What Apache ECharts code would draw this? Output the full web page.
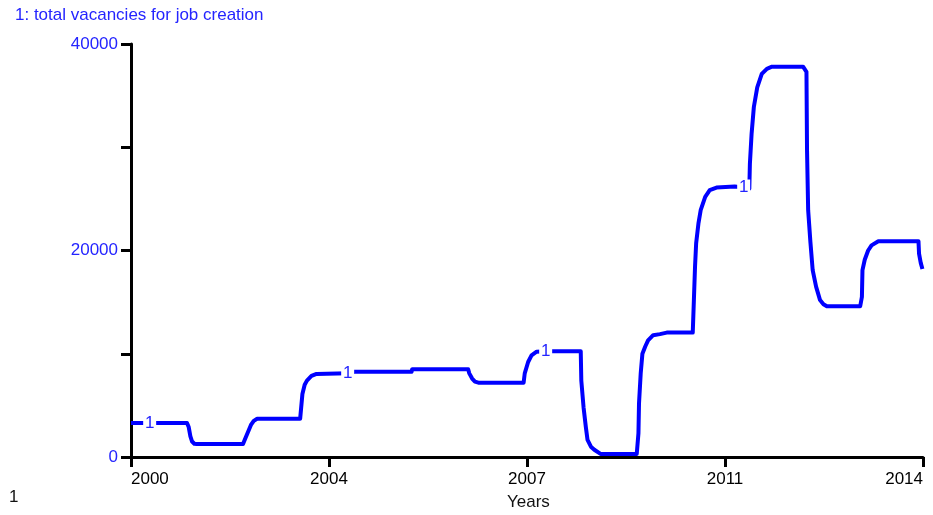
<!DOCTYPE html>
<html>
<head>
<meta charset="utf-8">
<style>
  html, body { margin: 0; padding: 0; background: #fff; }
  #chart { width: 933px; height: 515px; }
</style>
<script src="https://cdn.jsdelivr.net/npm/echarts@6/dist/echarts.min.js"></script>
</head>
<body>
<div id="chart"></div>
<script>
// Time axis (years) and the simulated stock "total vacancies for job creation"
const startYear = 2000;
const endYear = 2014;
const years = [
  2000.00, 2000.33, 2000.99, 2001.02, 2001.05, 2001.08, 2001.12, 2001.16,
  2001.98, 2002.02, 2002.07, 2002.12, 2002.17, 2002.23,
  2002.99, 2003.03, 2003.07, 2003.11, 2003.19, 2003.28, 2003.83, 2003.95,
  2004.96, 2004.97, 2005.96, 2005.98, 2006.03, 2006.08, 2006.14,
  2006.94, 2006.96, 2007.02, 2007.08, 2007.17, 2007.33,
  2007.95, 2007.96, 2008.00, 2008.04, 2008.07, 2008.13, 2008.19, 2008.30,
  2008.94, 2008.97, 2008.98, 2009.01, 2009.04, 2009.09, 2009.14, 2009.23, 2009.35, 2009.47,
  2009.93, 2009.95, 2009.97, 2009.99, 2010.03, 2010.07, 2010.15, 2010.23, 2010.35, 2010.67, 2010.83,
  2010.93, 2010.94, 2010.97, 2011.01, 2011.07, 2011.15, 2011.24, 2011.33,
  2011.88, 2011.94, 2011.95, 2011.97, 2012.01, 2012.05, 2012.11, 2012.18, 2012.24, 2012.30,
  2012.89, 2012.92, 2012.93, 2012.97, 2013.03, 2013.09, 2013.21,
  2013.92, 2013.93, 2013.96, 2013.99
];
const vacancies = [
  3300, 3300, 3300, 2900, 2000, 1500, 1280, 1250,
  1250, 1800, 2450, 3100, 3500, 3700,
  3700, 6100, 7000, 7400, 7850, 8050, 8100, 8250,
  8250, 8500, 8500, 8100, 7600, 7300, 7200,
  7200, 8100, 9200, 9850, 10200, 10250,
  10250, 7400, 4800, 2900, 1650, 1000, 700, 300,
  300, 2300, 5200, 8100, 10000, 10700, 11300, 11800, 11900, 12050,
  12050, 15200, 18400, 20700, 22600, 23900, 25200, 25850, 26100, 26200, 26100,
  26000, 28400, 31300, 33900, 35800, 37100, 37600, 37800,
  37800, 37300, 29700, 23900, 20800, 18100, 16500, 15200, 14800, 14600,
  14600, 15500, 18100, 19100, 20000, 20500, 20900,
  20900, 19700, 18800, 18200
];
// Years where the series number "1" is printed on the curve
const labelYears = [2000.33, 2003.83, 2007.33, 2010.83];
// Value-axis labels that are printed (other ticks are unlabeled)
const yLabelValues = [0, 20000, 40000];

const seriesTitle = '1: total vacancies for job creation';
const xAxisTitle = 'Years';

const blue = '#0000ff';
const textBlue = '#2424ff';
const font = '"Liberation Sans", Arial, sans-serif';
const fontSize = 17;

const points = years.map((y, i) => [y - startYear, vacancies[i]]);
const markers = labelYears.map(y => {
  const i = years.indexOf(y);
  return { coord: [years[i] - startYear, vacancies[i]] };
});

const chart = echarts.init(document.getElementById('chart'), null, { renderer: 'canvas' });
chart.setOption({
  animation: false,
  backgroundColor: '#fff',
  grid: { left: 131, right: 10, top: 44, bottom: 58, containLabel: false },
  xAxis: {
    type: 'value',
    min: 0,
    max: endYear - startYear,
    interval: 3.5,
    axisLine: { show: true, lineStyle: { color: '#000', width: 3 } },
    axisTick: { show: true, length: 10, lineStyle: { color: '#000', width: 3 } },
    splitLine: { show: false },
    axisLabel: {
      color: '#000', fontSize: fontSize, fontFamily: font, margin: 14,
      alignMinLabel: 'left', alignMaxLabel: 'right',
      formatter: v => String(Math.round(startYear + v))
    }
  },
  yAxis: {
    type: 'value',
    min: 0,
    max: 40000,
    interval: 10000,
    axisLine: { show: true, lineStyle: { color: '#000', width: 3 } },
    axisTick: { show: true, length: 10, lineStyle: { color: '#000', width: 3 } },
    splitLine: { show: false },
    axisLabel: {
      color: textBlue, fontSize: fontSize, fontFamily: font, margin: 13,
      formatter: v => (yLabelValues.indexOf(v) >= 0 ? String(v) : '')
    }
  },
  series: [{
    type: 'line',
    data: points,
    showSymbol: false,
    lineStyle: { color: blue, width: 4, cap: 'butt', join: 'round' },
    itemStyle: { color: blue },
    z: 2,
    markPoint: {
      symbol: 'rect',
      symbolSize: [13, 16],
      itemStyle: { color: '#fff' },
      label: {
        show: true, position: 'inside', formatter: '1',
        color: textBlue, fontSize: fontSize, fontFamily: font
      },
      data: markers,
      z: 5
    }
  }],
  graphic: [
    {
      type: 'text', left: 15, top: 7,
      style: { text: seriesTitle, fill: textBlue, font: fontSize + 'px ' + font }
    },
    {
      type: 'text', left: 507, top: 494,
      style: { text: xAxisTitle, fill: '#111', font: fontSize + 'px ' + font }
    },
    {
      type: 'text', left: 9, top: 489,
      style: { text: '1', fill: '#111', font: fontSize + 'px ' + font }
    }
  ]
});
</script>
</body>
</html>
